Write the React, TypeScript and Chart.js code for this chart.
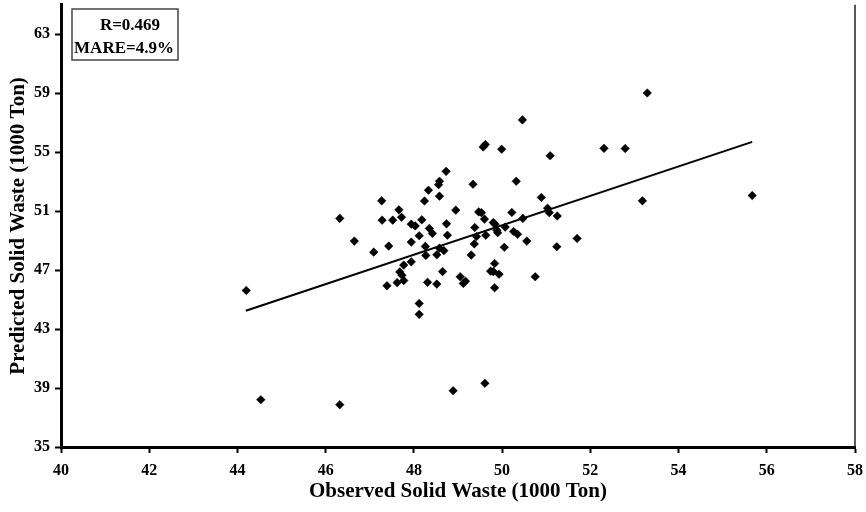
import React, { useEffect, useRef } from "react";
import { Chart, registerables } from "chart.js";

Chart.register(...registerables);

// Observed vs. predicted solid waste (thousand tonnes)
const observed = [
  44.2, 44.53, 46.32, 48.89, 49.61, 48.12, 48.12, 46.32, 46.65, 47.09,
  47.27, 47.28, 47.43, 47.52, 47.66, 47.72, 47.94, 48.03, 48.18, 48.24,
  48.33, 48.58, 48.56, 48.73, 48.58, 48.95, 48.74, 48.35, 48.42, 48.12,
  48.76, 47.94, 48.26, 48.27, 48.52, 48.58, 48.68, 47.94, 47.77, 47.68,
  47.73, 47.77, 47.62, 47.39, 48.31, 48.52, 48.65, 49.05, 49.17, 49.12,
  49.83, 49.74, 49.8, 49.93, 49.83, 50.75, 49.3, 49.37, 49.42, 49.63,
  49.38, 49.47, 49.53, 49.6, 49.8, 49.84, 49.88, 49.9, 50.07, 50.22,
  50.26, 50.35, 50.05, 50.47, 50.56, 50.32, 49.34, 49.62, 49.57, 49.99,
  50.46, 51.09, 50.89, 51.03, 51.07, 51.25, 51.24, 51.7, 52.31, 52.79,
  53.29, 53.18, 55.67,
];
const predicted = [
  45.62, 38.21, 37.87, 38.82, 39.32, 44.74, 44.0, 50.51, 48.97, 48.22,
  51.7, 50.39, 48.63, 50.39, 51.09, 50.59, 50.12, 50.0, 50.41, 51.69,
  52.42, 53.03, 52.8, 53.7, 52.02, 51.07, 50.14, 49.83, 49.49, 49.33,
  49.37, 48.9, 48.61, 48.0, 48.04, 48.49, 48.32, 47.56, 47.34, 46.88,
  46.66, 46.29, 46.15, 45.94, 46.17, 46.05, 46.9, 46.55, 46.25, 46.1,
  47.45, 46.93, 46.9, 46.72, 45.8, 46.55, 48.02, 48.78, 49.28, 49.37,
  49.89, 50.95, 50.9, 50.46, 50.23, 50.12, 49.71, 49.54, 49.92, 50.91,
  49.62, 49.43, 48.55, 50.51, 48.97, 53.03, 52.83, 55.52, 55.35, 55.2,
  57.19, 54.76, 51.93, 51.2, 50.9, 50.67, 48.59, 49.15, 55.26, 55.25,
  59.02, 51.7, 52.06,
];

// Fitted trend line end points
const fitX = [44.19, 55.67];
const fitY = [44.24, 55.7];

const xTicks = [40, 42, 44, 46, 48, 50, 52, 54, 56, 58];
const yTicks = [35, 39, 43, 47, 51, 55, 59, 63];

const statLines = ["R=0.469", "MARE=4.9%"];
const xTitle = "Observed Solid Waste (1000 Ton)";
const yTitle = "Predicted Solid Waste (1000 Ton)";

const SERIF = "'Liberation Serif', 'Times New Roman', serif";

// Thin right-hand frame line and the statistics box in the top-left corner
const framePlugin = {
  id: "frameAndStats",
  afterDraw(chart: any) {
    const { ctx, chartArea } = chart;
    ctx.save();
    ctx.strokeStyle = "#222";
    ctx.lineWidth = 1.5;
    ctx.beginPath();
    ctx.moveTo(chartArea.right, chartArea.top);
    ctx.lineTo(chartArea.right, chartArea.bottom);
    ctx.stroke();

    const bx = chartArea.left + 11;
    const by = 9;
    const bw = 106;
    const bh = 51;
    ctx.fillStyle = "#fff";
    ctx.fillRect(bx, by, bw, bh);
    ctx.strokeStyle = "#444";
    ctx.lineWidth = 1.5;
    ctx.strokeRect(bx, by, bw, bh);

    ctx.fillStyle = "#000";
    ctx.font = `bold 17px ${SERIF}`;
    ctx.textBaseline = "alphabetic";
    ctx.textAlign = "center";
    ctx.fillText(statLines[0], bx + 58, by + 21);
    ctx.fillText(statLines[1], bx + 52, by + 44);
    ctx.restore();
  },
};

export default function App() {
  const canvasRef = useRef<HTMLCanvasElement | null>(null);

  useEffect(() => {
    if (!canvasRef.current) return;
    const points = observed.map((x, i) => ({ x, y: predicted[i] }));
    const fit = fitX.map((x, i) => ({ x, y: fitY[i] }));
    const tickFont = { family: SERIF, size: 16, weight: "bold" as const };
    const titleFont = { family: SERIF, size: 21, weight: "bold" as const };

    const chart = new Chart(canvasRef.current, {
      type: "scatter",
      data: {
        datasets: [
          {
            data: points,
            pointStyle: "rectRot",
            pointRadius: 4.3,
            pointBackgroundColor: "#000",
            pointBorderColor: "#000",
            pointBorderWidth: 0.5,
          },
          {
            type: "line",
            data: fit,
            borderColor: "#000",
            borderWidth: 2,
            pointRadius: 0,
            fill: false,
          } as any,
        ],
      },
      options: {
        responsive: false,
        animation: false,
        events: [],
        layout: { padding: { top: 4.5, right: 11, left: 0, bottom: 0 } },
        plugins: {
          legend: { display: false },
          tooltip: { enabled: false },
        },
        scales: {
          x: {
            type: "linear",
            min: 40,
            max: 58,
            afterBuildTicks: (s: any) => {
              s.ticks = xTicks.map((v) => ({ value: v }));
            },
            afterFit: (s: any) => {
              s.height = 65;
              s.paddingLeft = 0;
              s.paddingRight = 0;
            },
            border: { display: true, color: "#000", width: 3 },
            grid: {
              drawOnChartArea: false,
              drawTicks: true,
              tickLength: 6,
              tickColor: "#000",
              tickWidth: 2,
            },
            ticks: { color: "#000", font: tickFont, padding: 8, maxRotation: 0 },
            title: {
              display: true,
              text: xTitle,
              color: "#000",
              font: titleFont,
              padding: { top: 0, bottom: 8 },
            },
          },
          y: {
            type: "linear",
            min: 35,
            max: 65,
            afterBuildTicks: (s: any) => {
              s.ticks = yTicks.map((v) => ({ value: v }));
            },
            afterFit: (s: any) => {
              s.width = 61;
              s.paddingTop = 0;
              s.paddingBottom = 0;
            },
            border: { display: true, color: "#000", width: 3 },
            grid: {
              drawOnChartArea: false,
              drawTicks: true,
              tickLength: 6,
              tickColor: "#000",
              tickWidth: 2,
            },
            ticks: { color: "#000", font: tickFont, padding: 5 },
            title: {
              display: true,
              text: yTitle,
              color: "#000",
              font: titleFont,
              padding: { top: 6, bottom: 0 },
            },
          },
        },
      },
      plugins: [framePlugin],
    });

    return () => chart.destroy();
  }, []);

  return (
    <div style={{ position: "absolute", left: 0, top: 0, width: 866, height: 512, background: "#fff" }}>
      <canvas ref={canvasRef} width={866} height={512} />
    </div>
  );
}
